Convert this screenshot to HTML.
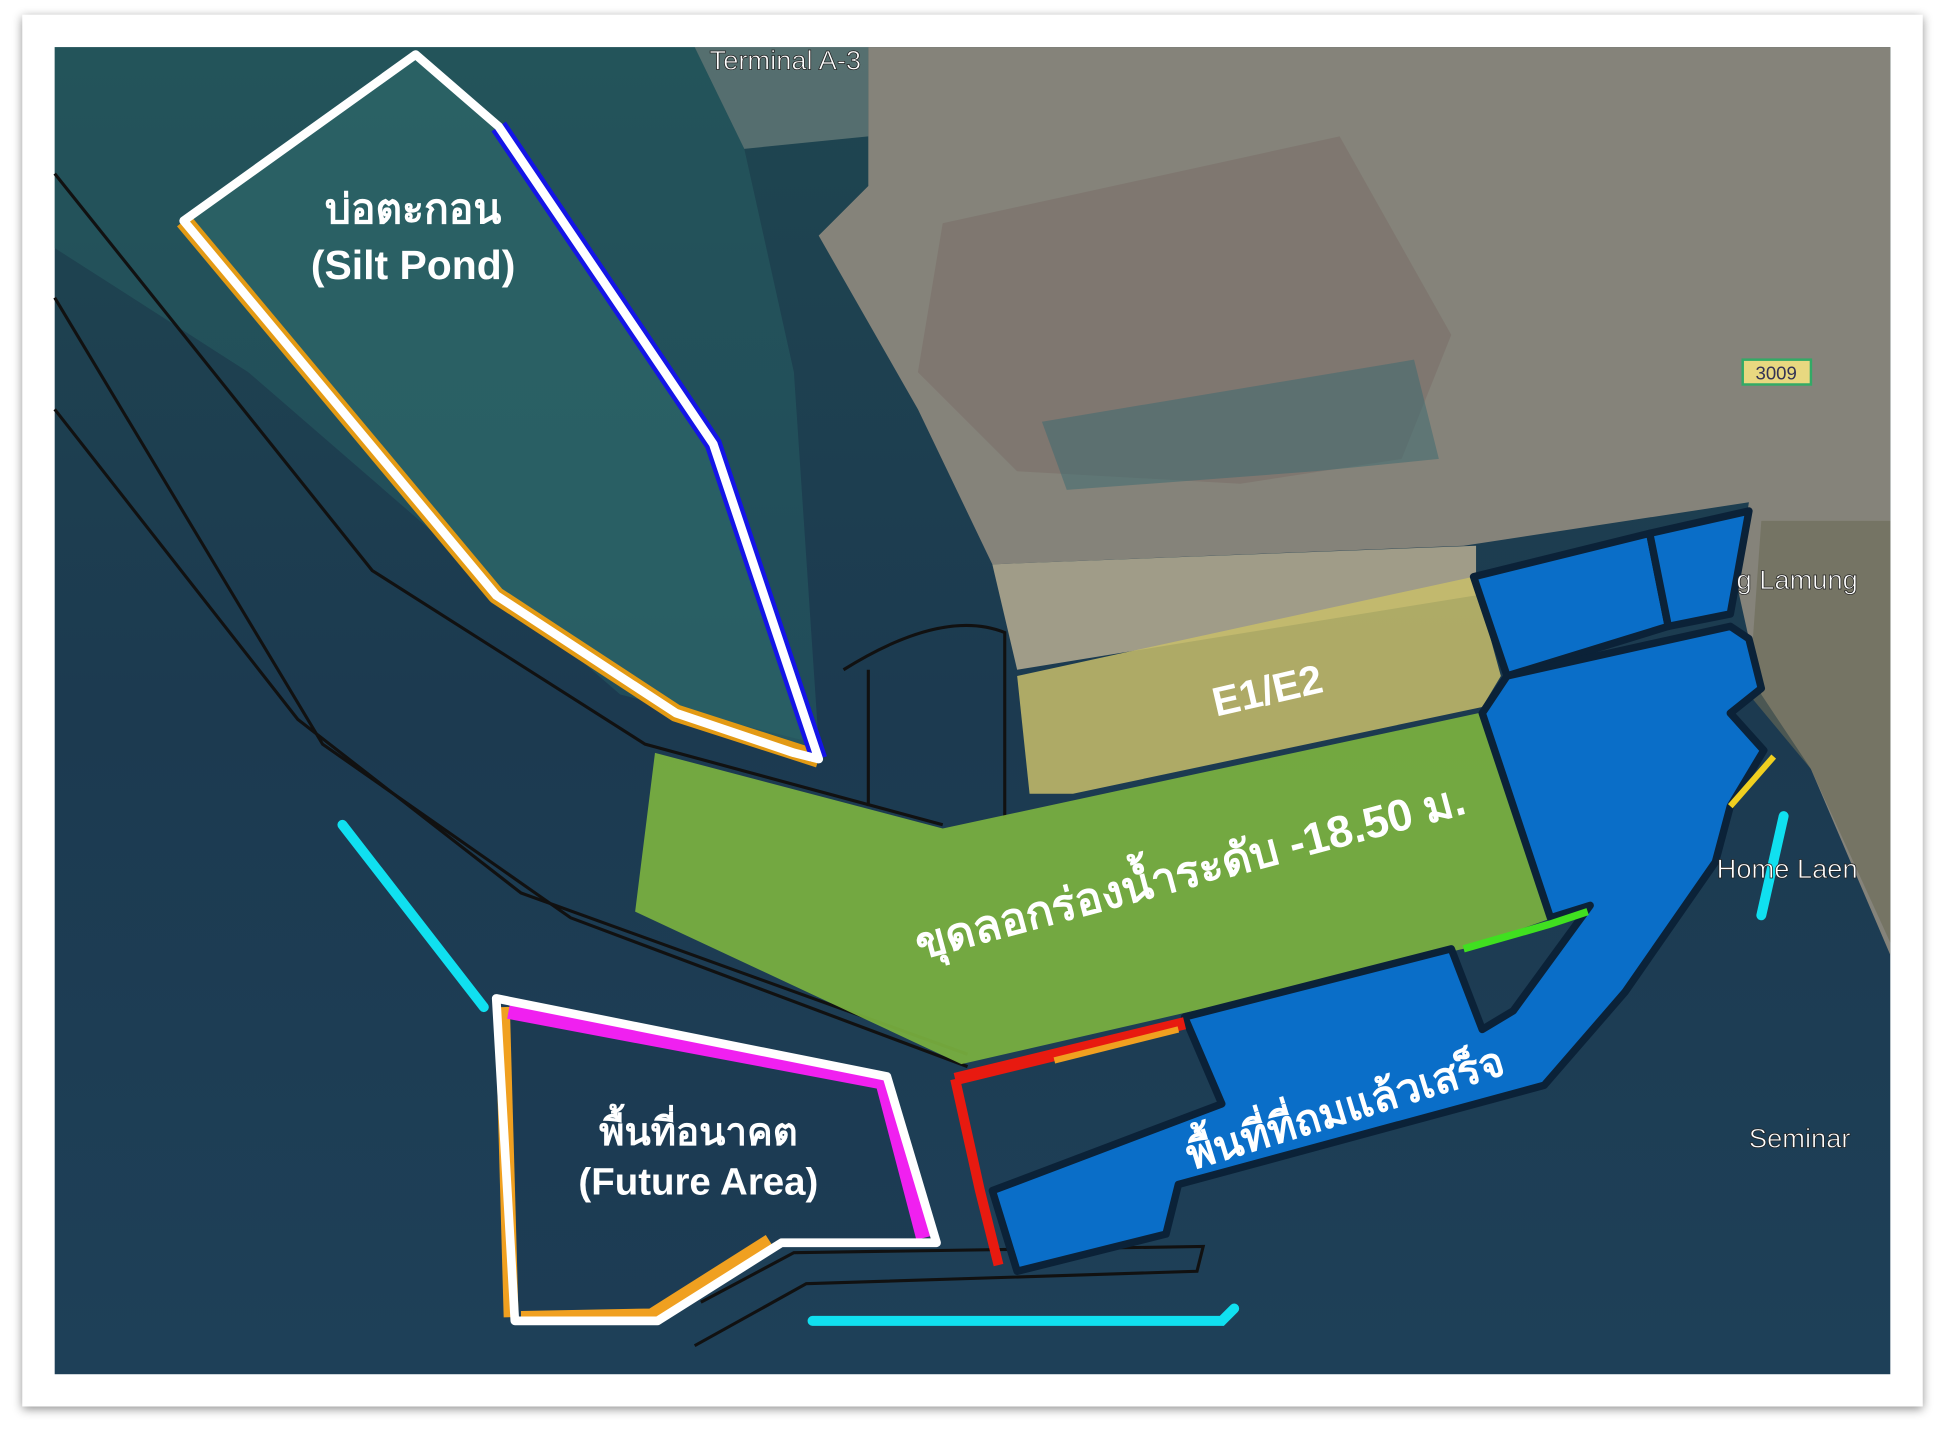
<!DOCTYPE html>
<html><head><meta charset="utf-8"><style>
html,body{margin:0;padding:0;background:#fff;width:1945px;height:1435px;overflow:hidden}
svg{display:block}
text{font-family:"Liberation Sans","DejaVu Sans",sans-serif;font-weight:bold}
</style></head><body>
<svg width="1945" height="1435" viewBox="0 0 1568 1157" xmlns="http://www.w3.org/2000/svg">
<defs>
<filter id="sh" x="-5%" y="-5%" width="110%" height="110%"><feDropShadow dx="0" dy="2" stdDeviation="4" flood-color="#000" flood-opacity="0.45"/></filter>
<linearGradient id="sea" x1="0" y1="0" x2="0" y2="1"><stop offset="0" stop-color="#1f4650"/><stop offset="0.5" stop-color="#1c3a50"/><stop offset="1" stop-color="#1e4058"/></linearGradient>
</defs>
<rect x="18" y="12" width="1532" height="1122" fill="#fff" filter="url(#sh)"/>
<rect x="44" y="38" width="1480" height="1070" fill="url(#sea)"/>
<polygon points="44,38 560,38 600,120 640,300 660,600 500,560 200,300 44,200" fill="#2a6a6a" opacity="0.4"/>
<polygon points="560,38 700,38 700,110 600,120" fill="#7a8a84" opacity="0.6"/>
<!-- land -->
<polygon points="700,38 1524,38 1524,770 1460,620 1420,560 1400,470 1410,405 1180,440 800,455 740,330 660,190 700,150" fill="#85837a"/>
<polygon points="760,180 1080,110 1170,270 1130,370 1000,390 820,380 740,300" fill="#7a6c66" opacity="0.5"/>
<polygon points="840,340 1140,290 1160,370 1060,380 860,395" fill="#3a6a70" opacity="0.5"/>
<polygon points="800,455 1190,440 1190,480 820,540" fill="#a09c88"/>
<polygon points="1420,420 1524,420 1524,760 1460,620 1410,560" fill="#6a6a55" opacity="0.6"/>
<!-- Silt pond -->
<polygon points="335,44 402,102 575,358 660,612 640,607 545,575 400,480 148,178" fill="#2f6a6a" opacity="0.6"/>
<polyline points="148,178 400,480 545,575 660,612" fill="none" stroke="#e39a14" stroke-width="14" stroke-linejoin="round"/>
<polyline points="402,102 575,358 660,612" fill="none" stroke="#1414e6" stroke-width="14"/>
<polygon points="335,44 402,102 575,358 660,612 640,607 545,575 400,480 148,178" fill="none" stroke="#fff" stroke-width="7" stroke-linejoin="round"/>
<text x="333" y="180" font-size="33" fill="#fff" text-anchor="middle">บ่อตะกอน</text>
<text x="333" y="225" font-size="33" fill="#fff" text-anchor="middle">(Silt Pond)</text>
<g fill="none" stroke="#111" stroke-width="2.5">
<polyline points="44,140 300,460 520,600 760,665"/>
<polyline points="44,240 260,600 460,740 780,860"/>
<polyline points="44,330 240,580 420,720 780,850"/>
<path d="M680,540 Q760,490 810,510 L810,660 M700,540 L700,650"/>
<polyline points="560,1085 650,1035 965,1025 970,1005 640,1010 565,1050"/>
</g>
<polygon points="820,545 1188,465 1210,545 1195,570 865,640 830,640" fill="#c8be6a" opacity="0.85"/>
<text x="1022" y="568" font-size="33" fill="#fff" text-anchor="middle" transform="rotate(-13 1022 558)">E1/E2</text>
<polygon points="528,607 760,668 1192,575 1252,740 1180,765 775,858 512,735" fill="#7ab040" opacity="0.93"/>
<text x="960" y="715" font-size="36" fill="#fff" text-anchor="middle" transform="rotate(-15 960 705)">ขุดลอกร่องน้ำระดับ -18.50 ม.</text>
<g fill="#0a6ec8" stroke="#0b2238" stroke-width="6" stroke-linejoin="round">
<polygon points="1188,465 1330,430 1345,505 1215,545"/>
<polygon points="1330,430 1410,412 1395,495 1345,505"/>
<polygon points="1215,545 1395,505 1410,515 1420,555 1395,575 1422,605 1395,650 1383,695 1310,800 1245,875 950,955 940,995 820,1025 800,960 985,890 955,820 1170,765 1195,830 1220,815 1282,730 1250,740 1195,575"/>
</g>
<polyline points="770,870 955,825" fill="none" stroke="#e81a10" stroke-width="10"/>
<polyline points="770,870 790,960 805,1020" fill="none" stroke="#e81a10" stroke-width="8"/>
<polyline points="850,855 950,830" fill="none" stroke="#f0a020" stroke-width="5"/>
<polyline points="1180,765 1250,745 1280,735" fill="none" stroke="#40e020" stroke-width="6"/>
<polyline points="1395,650 1430,610" fill="none" stroke="#f0d020" stroke-width="5"/>
<text x="1085" y="905" font-size="34" fill="#fff" text-anchor="middle" transform="rotate(-17 1085 895)">พื้นที่ที่ถมแล้วเสร็จ</text>
<polygon points="400,805 715,868 755,1002 630,1002 530,1065 415,1065" fill="#1c3b52" opacity="0.6"/>
<polyline points="405,812 412,1062" fill="none" stroke="#f0a020" stroke-width="12"/>
<polyline points="420,1062 525,1060 620,1000" fill="none" stroke="#f0a020" stroke-width="10"/>
<polyline points="410,815 712,872 745,998" fill="none" stroke="#f020f0" stroke-width="13"/>
<polygon points="400,805 715,868 755,1002 630,1002 530,1065 415,1065" fill="none" stroke="#fff" stroke-width="7" stroke-linejoin="round"/>
<text x="563" y="923" font-size="31" fill="#fff" text-anchor="middle">พื้นที่อนาคต</text>
<text x="563" y="963" font-size="31" fill="#fff" text-anchor="middle">(Future Area)</text>
<g fill="none" stroke="#10e0f0" stroke-width="8" stroke-linecap="round">
<polyline points="276,665 390,812"/>
<polyline points="655,1065 985,1065 995,1055"/>
<polyline points="1438,658 1420,738"/>
</g>
<g fill="#fff" stroke="#222" stroke-width="0.6" font-size="22">
<text x="572" y="56" style="font-weight:normal">Terminal A-3</text>
<text x="1400" y="475" style="font-weight:normal">g Lamung</text>
<text x="1384" y="708" style="font-weight:normal">Home Laen</text>
<text x="1410" y="925" style="font-weight:normal">Seminar</text>
</g>
<rect x="1405" y="290" width="55" height="20" fill="#e8d880" stroke="#3a6" stroke-width="2"/>
<text x="1432" y="306" font-size="15" fill="#335" text-anchor="middle" style="font-weight:normal">3009</text>
</svg>
</body></html>
